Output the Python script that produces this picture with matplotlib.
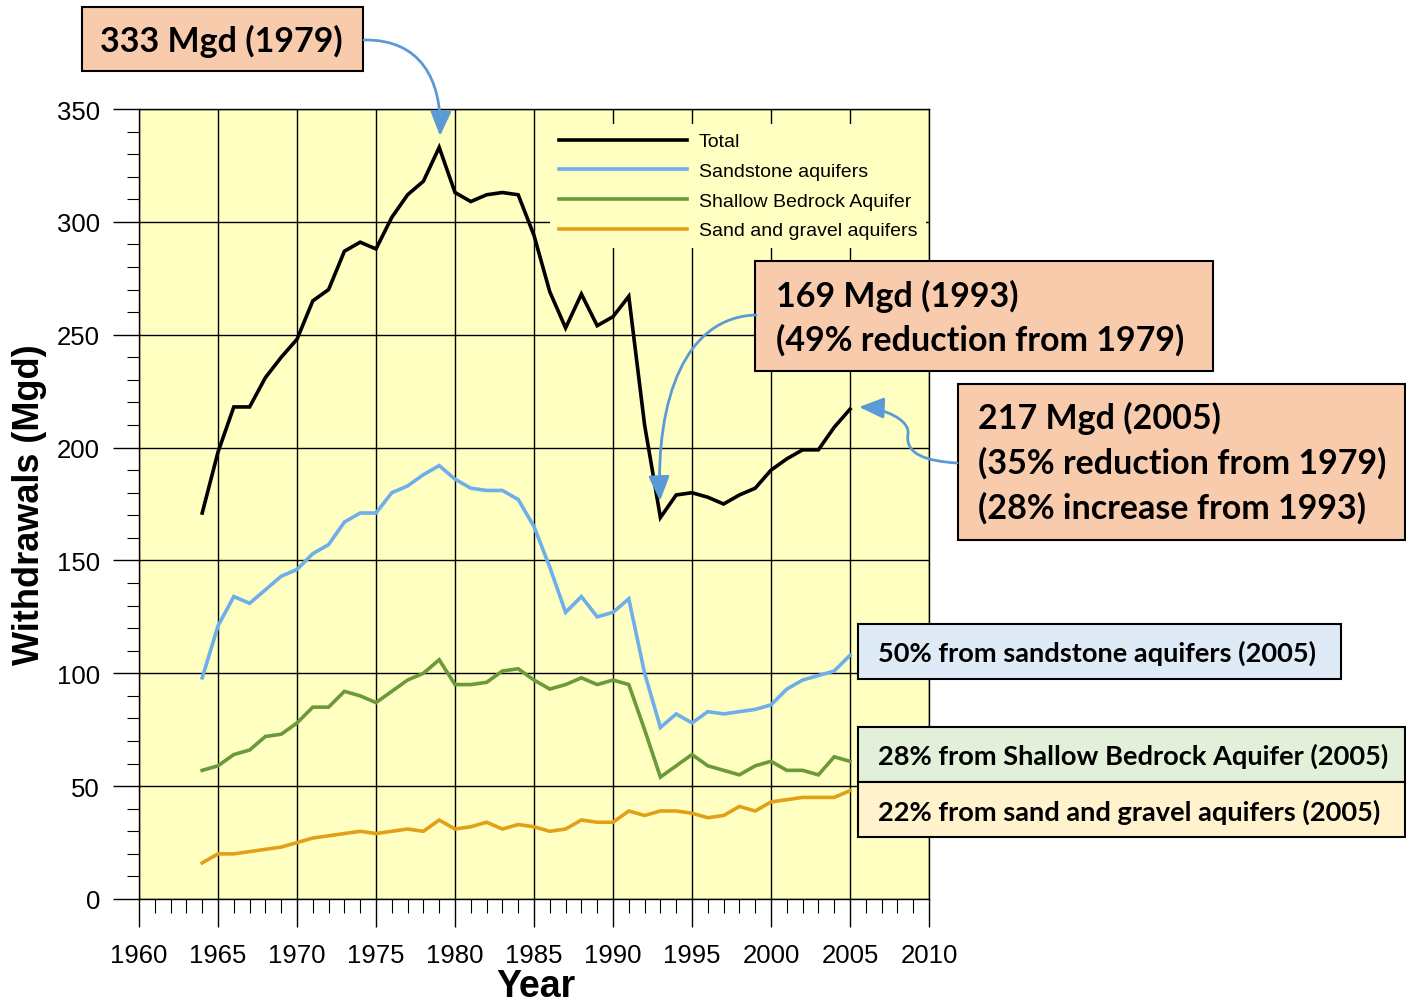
import matplotlib
matplotlib.use("Agg")
import matplotlib.pyplot as plt
from matplotlib.patches import Rectangle, FancyArrowPatch
from matplotlib.path import Path
from matplotlib.ticker import MultipleLocator

W, H = 1406, 1004

years = list(range(1964, 2006))
total = [171, 198, 218, 218, 231, 240, 248, 265, 270, 287, 291, 288,
         302, 312, 318, 333, 313, 309, 312, 313, 312, 294, 269, 253,
         268, 254, 258, 267, 210, 169, 179, 180, 178, 175, 179, 182,
         190, 195, 199, 199, 209, 217]
sandstone = [98, 121, 134, 131, 137, 143, 146, 153, 157, 167, 171, 171,
             180, 183, 188, 192, 186, 182, 181, 181, 177, 165, 147, 127,
             134, 125, 127, 133, 100, 76, 82, 78, 83, 82, 83, 84,
             86, 93, 97, 99, 101, 108]
bedrock = [57, 59, 64, 66, 72, 73, 78, 85, 85, 92, 90, 87,
           92, 97, 100, 106, 95, 95, 96, 101, 102, 97, 93, 95,
           98, 95, 97, 95, 75, 54, 59, 64, 59, 57, 55, 59,
           61, 57, 57, 55, 63, 61]
gravel = [16, 20, 20, 21, 22, 23, 25, 27, 28, 29, 30, 29,
          30, 31, 30, 35, 31, 32, 34, 31, 33, 32, 30, 31,
          35, 34, 34, 39, 37, 39, 39, 38, 36, 37, 41, 39,
          43, 44, 45, 45, 45, 48]

series_labels = ["Total", "Sandstone aquifers", "Shallow Bedrock Aquifer", "Sand and gravel aquifers"]
series_colors = ["#000000", "#6EAEEA", "#6A9A3A", "#E2A019"]

plt.rcParams['font.family'] = ['Liberation Sans', 'DejaVu Sans']

fig = plt.figure(figsize=(W / 100, H / 100), dpi=100)
ax = fig.add_axes([139 / W, 104 / H, 790 / W, 790 / H])
ax.set_facecolor("#FFFFC2")

for vals, lab, col in zip([total, sandstone, bedrock, gravel], series_labels, series_colors):
    ax.plot(years, vals, color=col, lw=2.6, label=lab, solid_joinstyle='miter', zorder=3)

ax.set_xlim(1960, 2010)
ax.set_ylim(0, 350)
ax.xaxis.set_major_locator(MultipleLocator(5))
ax.xaxis.set_minor_locator(MultipleLocator(1))
ax.yaxis.set_major_locator(MultipleLocator(50))
ax.yaxis.set_minor_locator(MultipleLocator(10))
ax.grid(which='major', color='black', lw=1.0)
ax.tick_params(axis='x', which='major', length=20, width=1, pad=12, labelsize=18.5)
ax.tick_params(axis='x', which='minor', length=10, width=0.8)
ax.tick_params(axis='y', which='major', length=19, width=1, pad=9, labelsize=18.5)
ax.tick_params(axis='y', which='minor', length=9, width=0.8)
for s in ax.spines.values():
    s.set_linewidth(1.0)

leg = ax.legend(loc='upper left', bbox_to_anchor=(550 / W, 1 - 125 / H),
                bbox_transform=fig.transFigure, borderaxespad=0, fontsize=14,
                frameon=True, facecolor="#FFFFC2", edgecolor='none', framealpha=1,
                fancybox=False, handlelength=6.6, handletextpad=0.6,
                labelspacing=0.62, borderpad=0.45)
leg.set_zorder(5)

fig.text(30 / W, 1 - 505 / H, "Withdrawals (Mgd)", rotation=90, ha='center', va='center',
         fontsize=26, fontweight='bold')
fig.text(536 / W, 1 - 987 / H, "Year", ha='center', va='center', fontsize=27, fontweight='bold')


def box(x0, y0, x1, y1, fc):
    fig.add_artist(Rectangle((x0 / W, 1 - y1 / H), (x1 - x0) / W, (y1 - y0) / H,
                             transform=fig.transFigure, fc=fc, ec='black', lw=1.5, zorder=6))


def label(x, y, s, size):
    fig.text(x / W, 1 - y / H, s, ha='left', va='center', fontsize=size, fontweight='bold',
             family=['Lato', 'DejaVu Sans'], zorder=7)


def arrow(pts, codes):
    verts = [(x / W, 1 - y / H) for x, y in pts]
    fig.add_artist(FancyArrowPatch(path=Path(verts, codes), transform=fig.transFigure,
                                   arrowstyle='-|>,head_length=0.75,head_width=0.32',
                                   mutation_scale=20, color='#5B9BD5', lw=2, zorder=8))


peach = "#F8CBAD"
box(82, 8, 363, 72, peach)
label(100, 41, "333 Mgd (1979)", 24.5)

box(755, 262, 1213, 372, peach)
label(776, 296, "169 Mgd (1993)", 24.5)
label(776, 340, "(49% reduction from 1979)", 24.5)

box(958, 385, 1405, 541, peach)
label(978, 418, "217 Mgd (2005)", 24.5)
label(978, 463, "(35% reduction from 1979)", 24.5)
label(978, 508, "(28% increase from 1993)", 24.5)

box(858, 625, 1341, 680, "#DEEBF7")
label(878, 653, "50% from sandstone aquifers (2005)", 19.6)
box(858, 728, 1405, 783, "#E2F0D9")
label(878, 756, "28% from Shallow Bedrock Aquifer (2005)", 19.6)
box(858, 783, 1405, 838, "#FFF2CC")
label(878, 812, "22% from sand and gravel aquifers (2005)", 19.6)

C4 = Path.CURVE4
arrow([(364, 41), (420, 40), (442, 80), (440, 137)], [Path.MOVETO, C4, C4, C4])
arrow([(756, 316), (685, 318), (656, 400), (660, 502)], [Path.MOVETO, C4, C4, C4])
arrow([(957, 464), (925, 462), (905, 455), (908, 435), (910, 420), (882, 409), (859, 408)],
      [Path.MOVETO, C4, C4, C4, C4, C4, C4])

fig.savefig("out.png", dpi=100)
